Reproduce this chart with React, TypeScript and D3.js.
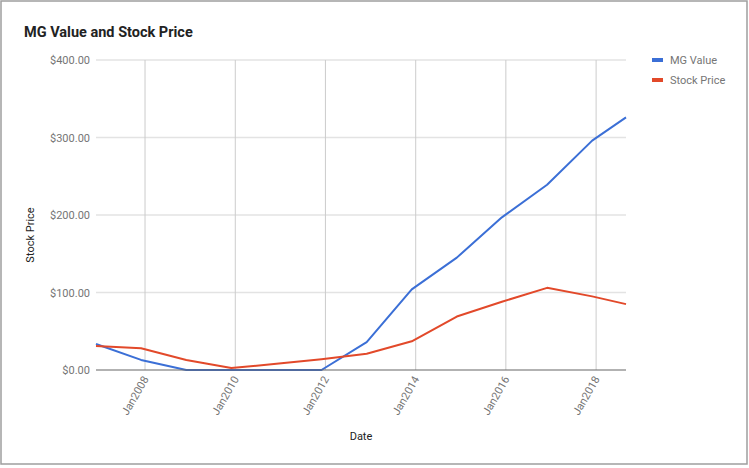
import React, { useRef, useEffect } from 'react';
import * as d3 from 'd3';

const dates = [
  '2006-11-30', '2007-11-30', '2008-11-30', '2009-11-30', '2010-11-30', '2011-11-30',
  '2012-11-30', '2013-11-30', '2014-11-30', '2015-11-30', '2016-11-30', '2017-11-30', '2018-08-31',
];
const mgValue = [33.5, 13, 0, 0, 0, 0, 36, 104, 145, 197, 239, 296, 326];
const stockPrice = [31, 28, 13, 2.5, 8, 14, 21, 37, 69, 88, 106, 95, 85];
const seriesNames = ['MG Value', 'Stock Price'];
const colors = ['#3b6fd6', '#e2492a'];
const yTicks = [0, 100, 200, 300, 400];
const xTickYears = [2008, 2010, 2012, 2014, 2016, 2018];

const W = 749;
const H = 468;

const App: React.FC = () => {
  const svgRef = useRef<SVGSVGElement | null>(null);

  useEffect(() => {
    document.body.style.margin = '0';
    if (!svgRef.current) return;
    const svg = d3.select(svgRef.current);
    svg.selectAll('*').remove();

    const font = 'Roboto, Arial, sans-serif';
    const parse = d3.timeParse('%Y-%m-%d');
    const xs = dates.map(d => parse(d) as Date);

    const margin = { left: 96, right: 626, top: 60, bottom: 370 };

    const x = d3.scaleTime()
      .domain([xs[0], xs[xs.length - 1]])
      .range([margin.left, margin.right]);
    const y = d3.scaleLinear().domain([0, 400]).range([margin.bottom, margin.top]);

    // frame
    svg.append('rect')
      .attr('x', 1).attr('y', 1).attr('width', 746).attr('height', 463)
      .attr('fill', '#fff').attr('stroke', '#9e9e9e').attr('stroke-width', 1.5);

    // title
    svg.append('text')
      .attr('x', 24).attr('y', 37)
      .attr('font-family', font).attr('font-size', 14.5).attr('font-weight', 'bold')
      .attr('fill', '#222')
      .text('MG Value and Stock Price');

    // horizontal gridlines
    svg.append('g').selectAll('line')
      .data(yTicks.filter(d => d > 0))
      .enter().append('line')
      .attr('x1', margin.left).attr('x2', margin.right)
      .attr('y1', d => y(d)).attr('y2', d => y(d))
      .attr('stroke', '#e3e3e3').attr('stroke-width', 1.5);

    // vertical gridlines
    const tickDates = xTickYears.map(yr => new Date(yr, 0, 1));
    svg.append('g').selectAll('line')
      .data(tickDates)
      .enter().append('line')
      .attr('x1', d => x(d)).attr('x2', d => x(d))
      .attr('y1', margin.top).attr('y2', margin.bottom)
      .attr('stroke', '#cccccc').attr('stroke-width', 1);

    // y labels
    svg.append('g').selectAll('text')
      .data(yTicks)
      .enter().append('text')
      .attr('x', 90).attr('y', d => y(d) + 4)
      .attr('text-anchor', 'end')
      .attr('font-family', font).attr('font-size', 11)
      .attr('fill', '#757575')
      .text(d => '$' + d3.format('.2f')(d));

    // x labels rotated
    svg.append('g').selectAll('text')
      .data(tickDates)
      .enter().append('text')
      .attr('transform', d => `translate(${x(d) + 4},${margin.bottom + 9}) rotate(-60)`)
      .attr('text-anchor', 'end')
      .attr('font-family', font).attr('font-size', 11)
      .attr('fill', '#757575')
      .text(d => 'Jan' + d.getFullYear());

    // lines
    const line = d3.line<number>()
      .x((_, i) => x(xs[i]))
      .y(d => y(d));

    [mgValue, stockPrice].forEach((vals, i) => {
      svg.append('path')
        .datum(vals)
        .attr('fill', 'none')
        .attr('stroke', colors[i])
        .attr('stroke-width', 2)
        .attr('stroke-linejoin', 'round')
        .attr('d', line);
    });

    // baseline
    svg.append('line')
      .attr('x1', margin.left).attr('x2', margin.right)
      .attr('y1', y(0)).attr('y2', y(0))
      .attr('stroke', '#666').attr('stroke-width', 1.2);

    // axis titles
    svg.append('text')
      .attr('transform', 'translate(34,235) rotate(-90)')
      .attr('text-anchor', 'middle')
      .attr('font-family', font).attr('font-size', 11)
      .attr('fill', '#222')
      .text('Stock Price');

    svg.append('text')
      .attr('x', 361).attr('y', 440)
      .attr('text-anchor', 'middle')
      .attr('font-family', font).attr('font-size', 11)
      .attr('fill', '#222')
      .text('Date');

    // legend
    const legend = svg.append('g');
    seriesNames.forEach((name, i) => {
      const ly = 60 + i * 20;
      legend.append('rect')
        .attr('x', 652).attr('y', ly - 2).attr('width', 11).attr('height', 4)
        .attr('fill', colors[i]);
      legend.append('text')
        .attr('x', 670).attr('y', ly + 4)
        .attr('font-family', font).attr('font-size', 11)
        .attr('fill', '#757575')
        .text(name);
    });
  }, []);

  return <svg ref={svgRef} width={W} height={H} style={{ display: 'block' }} />;
};

export default App;
